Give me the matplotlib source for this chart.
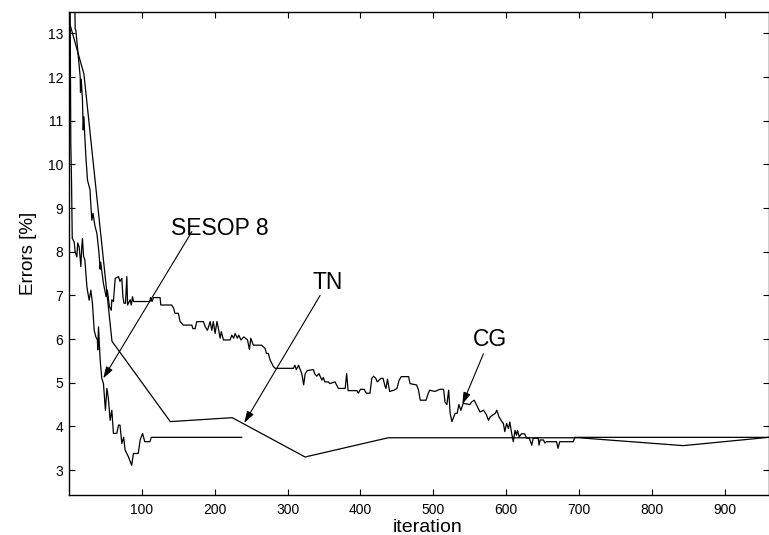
import numpy as np
import matplotlib
matplotlib.use("Agg")
import matplotlib.pyplot as plt

plt.rcParams["font.family"] = ["Liberation Sans", "DejaVu Sans"]

## 1. Data
sesop_x = [1.5, 2.5, 3.5, 4.5, 7.1, 8.5, 10.8, 12, 14, 16.3, 17.5, 18.5, 20, 21.8, 24.6, 25.5,
           27.7, 30, 32.2, 34.6, 36.9, 39, 39.5, 40.5, 42.8, 45, 47.3, 50, 52, 54, 56.5, 58.8,
           61, 65.6, 68, 70, 72.5, 75, 77, 81.7, 86, 88.5, 95, 97.7, 101, 104, 111, 113, 237]
sesop_y = [14.0, 10.5, 9.6, 8.3, 8.23, 8.0, 7.88, 8.2, 8.11, 7.66, 8.1, 8.3, 7.9, 7.81, 7.2, 7.1,
           6.89, 7.12, 6.82, 6.2, 6.05, 5.98, 5.75, 6.28, 5.52, 5.1, 4.98, 4.37, 4.87, 4.65, 4.14, 4.37,
           3.84, 3.84, 4.03, 4.03, 3.61, 3.75, 3.46, 3.3, 3.11, 3.38, 3.38, 3.69, 3.84, 3.65, 3.65, 3.75, 3.75]

tn_x = [1.5, 20.5, 59, 139, 224, 324, 438, 700, 843, 960]
tn_y = [13.2, 12.07, 5.95, 4.11, 4.2, 3.3, 3.74, 3.74, 3.56, 3.75]

cg_x = [8, 8.5, 9.4, 14, 15.4, 15.8, 16.8, 18.5, 19.5, 20.5, 21.5, 23.2, 25.4, 27.5, 29, 29.5,
        31.4, 33, 35.5, 38.3, 41, 42.8, 43.5, 47.3, 51, 52.6, 55.6, 58, 58.8, 61, 63.4, 68, 70,
        72.5, 74, 75.5, 77.5, 79.4, 80.4, 84, 85.5, 87.2, 88.5, 111, 112, 114, 116, 125, 126,
        141, 143.4, 145.5, 150, 152.5, 157, 168.6, 170, 173, 175.4, 184.5, 187, 190, 193.7, 196,
        198, 200.5, 203, 205, 207.4, 209, 212, 221, 223.4, 226, 228, 231, 233, 236, 240, 245,
        247.6, 249.5, 253, 264, 269, 271, 273.5, 276, 280.5, 283, 308, 310, 312, 315, 319.5, 322,
        324, 327, 335.4, 337, 340, 343, 347, 349, 351, 356, 358, 365, 369.7, 379, 381, 383, 395,
        397, 400, 405, 408, 413, 415.5, 418, 421, 423, 428, 431, 433.5, 435, 437, 440, 446, 450,
        453, 456, 466, 468, 477, 479.6, 482, 490, 493, 495, 502, 509, 514, 516, 518.5, 521, 523,
        525.5, 528, 530, 532.7, 535, 537.7, 541, 550, 552.6, 556, 559, 564, 569, 573, 575.6, 578,
        585, 587, 590, 594, 596, 598, 600.5, 603, 605, 607, 609.7, 612, 614, 615.5, 617.7, 620.8,
        625.3, 628, 631.6, 635, 637, 644, 645, 646.5, 651, 653, 655, 669, 671, 673.4, 692, 694, 960]
cg_y = [13.7, 13.1, 13.08, 12.24, 12.0, 11.65, 11.95, 11.47, 10.79, 11.09, 10.71, 10.17, 9.64, 9.5, 9.41, 9.2,
        8.72, 8.88, 8.6, 8.42, 8.0, 7.6, 7.76, 7.27, 6.97, 7.12, 6.74, 6.66, 6.9, 6.86, 7.39, 7.43, 7.32,
        7.39, 6.97, 6.82, 6.82, 7.43, 6.78, 6.9, 6.78, 6.97, 6.86, 6.86, 6.95, 6.86, 6.95, 6.95, 6.78,
        6.78, 6.71, 6.59, 6.59, 6.40, 6.32, 6.32, 6.24, 6.24, 6.40, 6.40, 6.28, 6.2, 6.4, 6.2,
        6.4, 6.13, 6.4, 6.25, 6.02, 6.17, 5.98, 5.98, 6.09, 6.02, 6.13, 6.02, 6.09, 5.98, 6.05, 5.98,
        5.76, 6.02, 5.86, 5.86, 5.79, 5.67, 5.67, 5.52, 5.37, 5.33, 5.33, 5.4, 5.3, 5.4, 5.21, 4.95,
        5.2, 5.28, 5.3, 5.21, 5.15, 5.21, 5.06, 5.12, 5.02, 5.02, 4.98, 5.02, 4.87, 4.87, 5.21, 4.82, 4.82,
        4.76, 4.85, 4.85, 4.76, 4.76, 5.1, 5.15, 5.1, 5.02, 5.1, 5.1, 4.93, 4.87, 5.08, 4.8, 4.83, 4.87,
        5.06, 5.14, 5.14, 4.98, 4.95, 4.83, 4.6, 4.6, 4.76, 4.83, 4.8, 4.85, 4.85, 4.56, 4.5, 4.83, 4.3,
        4.11, 4.22, 4.3, 4.3, 4.5, 4.37, 4.53, 4.5, 4.56, 4.6, 4.5, 4.33, 4.37, 4.26, 4.14, 4.22,
        4.3, 4.37, 4.22, 4.11, 4.07, 3.88, 4.07, 3.95, 4.1, 3.88, 3.65, 3.91, 3.8, 3.91, 3.76, 3.83,
        3.83, 3.73, 3.73, 3.57, 3.73, 3.73, 3.57, 3.69, 3.69, 3.62, 3.65, 3.65, 3.5, 3.65, 3.65, 3.75, 3.75]

## 2. plotting
fig = plt.figure(figsize=(7.69, 5.35), dpi=100)
ax = fig.add_axes([0.0897, 0.0748, 0.9098, 0.9028])

ax.plot(sesop_x, sesop_y, color="black", lw=0.9)
ax.plot(tn_x, tn_y, color="black", lw=0.9)
ax.plot(cg_x, cg_y, color="black", lw=0.9)

ax.set_xlim(0, 960)
ax.set_ylim(2.43, 13.49)
ax.set_xticks(np.arange(100, 1000, 100))
ax.set_yticks(np.arange(3, 14, 1))
ax.tick_params(direction="in", top=True, right=True, length=4, width=0.8, labelsize=10)
ax.tick_params(axis="y", pad=4)
ax.tick_params(axis="x", pad=6)
for s in ax.spines.values():
    s.set_linewidth(1.0)

ax.set_xlabel("iteration", fontsize=14, labelpad=1, x=0.512)
ax.set_ylabel("Errors [%]", fontsize=13.5, labelpad=8)

# labels with arrows
arrow = dict(arrowstyle="-|>,head_length=0.7,head_width=0.22", color="black", lw=0.8,
             shrinkA=0, shrinkB=0)
ax.annotate("", xy=(47, 5.1), xytext=(168.6, 8.46), arrowprops=arrow)
ax.text(207, 8.54, "SESOP 8", fontsize=16.5, ha="center", va="center")
ax.annotate("", xy=(240.5, 4.08), xytext=(344.6, 7.0), arrowprops=arrow)
ax.text(355.6, 7.3, "TN", fontsize=16.5, ha="center", va="center")
ax.annotate("", xy=(539.8, 4.51), xytext=(568.6, 5.66), arrowprops=arrow)
ax.text(577.8, 5.98, "CG", fontsize=16.5, ha="center", va="center")

fig.savefig("out.png", dpi=100)
